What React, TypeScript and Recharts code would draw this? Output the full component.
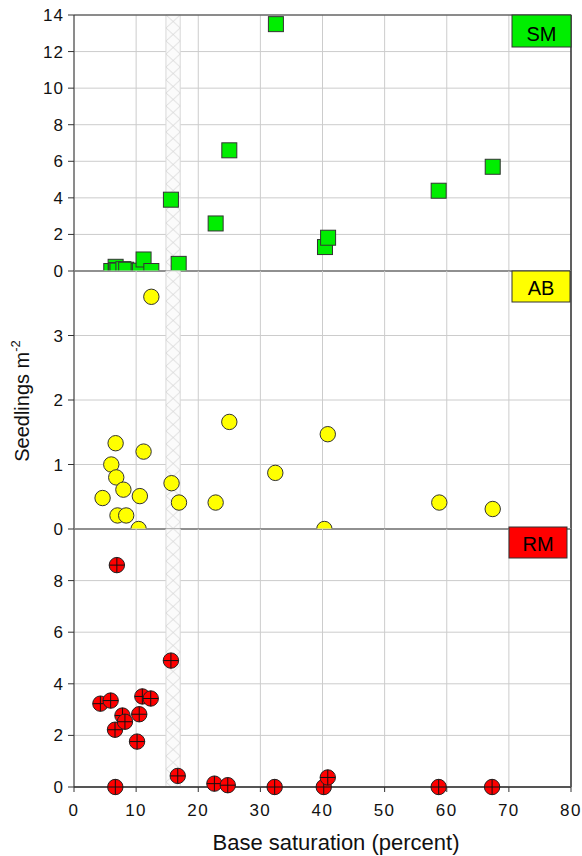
import React from 'react';
import { ScatterChart, Scatter, XAxis, YAxis, CartesianGrid, ReferenceArea, ReferenceLine } from 'recharts';

// ---------- data ----------
const xTicks = [0, 10, 20, 30, 40, 50, 60, 70, 80];
const smTicks = [0, 2, 4, 6, 8, 10, 12, 14];
const abTicks = [0, 1, 2, 3];
const rmTicks = [0, 2, 4, 6, 8];

const smX = [6.0, 6.7, 6.8, 7.0, 7.95, 8.4, 10.4, 10.6, 11.2, 12.45, 15.6, 16.85, 22.8, 25.0, 32.5, 40.4, 40.9, 58.7, 67.4];
const smY = [0.0, 0.23, 0.05, 0.02, 0.1, 0.07, 0.0, 0.02, 0.63, 0.0, 3.9, 0.39, 2.6, 6.6, 13.5, 1.31, 1.82, 4.39, 5.7];

const abX = [4.6, 6.0, 6.7, 6.8, 7.0, 7.95, 8.4, 10.4, 10.6, 11.2, 12.45, 15.7, 16.9, 22.8, 25.0, 32.4, 40.3, 40.85, 58.8, 67.4];
const abY = [0.48, 1.0, 1.33, 0.8, 0.21, 0.61, 0.21, 0.0, 0.51, 1.2, 3.6, 0.71, 0.41, 0.41, 1.66, 0.87, 0.0, 1.47, 0.41, 0.31];

const rmX = [4.25, 5.9, 6.6, 6.65, 6.9, 7.8, 8.2, 10.15, 10.5, 11.0, 12.35, 15.6, 16.7, 22.6, 24.75, 32.3, 40.2, 40.85, 58.7, 67.3];
const rmY = [3.23, 3.35, 2.22, 0.0, 8.6, 2.77, 2.53, 1.76, 2.82, 3.51, 3.43, 4.9, 0.43, 0.13, 0.07, 0.0, 0.0, 0.37, 0.0, 0.0];

const hatchFrom = 14.8;
const hatchTo = 17.1;

const smData = smX.map((x, i) => ({ x, y: smY[i] }));
const abData = abX.map((x, i) => ({ x, y: abY[i] }));
const rmData = rmX.map((x, i) => ({ x, y: rmY[i] }));

// ---------- layout / style ----------
const W = 582;
const H = 856;
const FONT = '"Liberation Sans", Arial, Helvetica, sans-serif';
const PLOT_LEFT = 74;
const PLOT_RIGHT = 571;
const GRID = '#cccccc';
const AXIS = '#333';
const SEP = '#555';

const tickStyle = { fill: '#111', fontSize: 17, fontFamily: FONT, letterSpacing: 1 };

const Square = (props: any) => {
  const { cx, cy } = props;
  if (cx == null || cy == null) return null;
  return <rect x={cx - 7.5} y={cy - 7.5} width={15} height={15} fill="#00ee00" stroke="#333" strokeWidth={1} />;
};

const YellowDot = (props: any) => {
  const { cx, cy } = props;
  if (cx == null || cy == null) return null;
  return <circle cx={cx} cy={cy} r={7.7} fill="#ffff00" stroke="#333" strokeWidth={1} />;
};

const RedCross = (props: any) => {
  const { cx, cy } = props;
  if (cx == null || cy == null) return null;
  const r = 7.7;
  return (
    <g>
      <circle cx={cx} cy={cy} r={r} fill="#ff0000" stroke="#222" strokeWidth={1} />
      <line x1={cx - r} y1={cy} x2={cx + r} y2={cy} stroke="#111" strokeWidth={1} />
      <line x1={cx} y1={cy - r} x2={cx} y2={cy + r} stroke="#111" strokeWidth={1} />
    </g>
  );
};

type PanelProps = {
  top: number;
  bottom: number;
  data: { x: number; y: number }[];
  domain: [number, number];
  ticks: number[];
  shape: (p: any) => any;
  showX: boolean;
  clip: boolean;
  topBorder: boolean;
};

const X_AXIS_H = 30;

const Panel = ({ top, bottom, data, domain, ticks, shape, showX, clip, topBorder }: PanelProps) => {
  const marginBottom = H - bottom - (showX ? X_AXIS_H : 0);
  return (
    <div style={{ position: 'absolute', left: 0, top: 0, width: W, height: H }}>
      <ScatterChart
        width={W}
        height={H}
        margin={{ top, right: W - PLOT_RIGHT, left: 0, bottom: marginBottom }}
      >
        <CartesianGrid stroke={GRID} strokeWidth={1} />
        <XAxis
          type="number"
          dataKey="x"
          domain={[0, 80]}
          ticks={xTicks}
          interval={0}
          hide={!showX}
          height={X_AXIS_H}
          axisLine={{ stroke: SEP, strokeWidth: 2 }}
          tickLine={{ stroke: AXIS }}
          tickSize={5}
          tickMargin={12}
          tick={{ ...tickStyle, letterSpacing: 1.5 }}
        />
        <YAxis
          type="number"
          dataKey="y"
          domain={domain}
          ticks={ticks}
          interval={0}
          width={PLOT_LEFT}
          allowDataOverflow={clip}
          axisLine={{ stroke: AXIS, strokeWidth: 1 }}
          tickLine={{ stroke: AXIS }}
          tickSize={6}
          tickMargin={4}
          tick={tickStyle}
        />
        <ReferenceArea
          x1={hatchFrom}
          x2={hatchTo}
          y1={domain[0]}
          y2={domain[1]}
          fill="url(#hatch)"
          fillOpacity={1}
          stroke="#d8d8d8"
          strokeWidth={1}
        />
        {topBorder && <ReferenceLine y={domain[1]} stroke={AXIS} strokeWidth={1} />}
        <ReferenceLine x={80} stroke={AXIS} strokeWidth={1.5} />
        {!showX && <ReferenceLine y={0} stroke={SEP} strokeWidth={2} />}
        <Scatter data={data} shape={shape} isAnimationActive={false} />
      </ScatterChart>
    </div>
  );
};

const Tag = ({ x, y, w, h, fill, label, base }: any) => (
  <g>
    <rect x={x} y={y} width={w} height={h} fill={fill} stroke="#333" strokeWidth={1} />
    <text x={x + w / 2} y={base} textAnchor="middle" fontSize={20} fontFamily={FONT} fill="#000">
      {label}
    </text>
  </g>
);

export default function App() {
  const bandLeft = PLOT_LEFT + (hatchFrom / 80) * (PLOT_RIGHT - PLOT_LEFT);
  return (
    <div style={{ position: 'absolute', left: 0, top: 0, width: W, height: H, background: '#fff', fontFamily: FONT }}>
      <svg width={0} height={0} style={{ position: 'absolute' }}>
        <defs>
          <pattern id="hatch" patternUnits="userSpaceOnUse" x={bandLeft} y={15} width={14.3} height={13}>
            <rect width={14.3} height={13} fill="#fbfbfb" />
            <path d="M0 0 L14.3 13 M14.3 0 L0 13" stroke="#cbcbcb" strokeWidth={0.7} fill="none" />
          </pattern>
        </defs>
      </svg>
      <Panel top={15} bottom={271} data={smData} domain={[0, 14]} ticks={smTicks} shape={Square} showX={false} clip={true} topBorder={true} />
      <Panel top={271} bottom={529} data={abData} domain={[0, 4]} ticks={abTicks} shape={YellowDot} showX={false} clip={true} topBorder={false} />
      <Panel top={529} bottom={787} data={rmData} domain={[0, 10]} ticks={rmTicks} shape={RedCross} showX={true} clip={false} topBorder={false} />
      <svg width={W} height={H} style={{ position: 'absolute', left: 0, top: 0, pointerEvents: 'none' }}>
        <Tag x={512} y={15} w={59} h={32} fill="#00ee00" label="SM" base={41} />
        <Tag x={512} y={271} w={58} h={31} fill="#ffff00" label="AB" base={295} />
        <Tag x={509} y={527} w={58} h={31} fill="#ff0000" label="RM" base={551} />
        <text x={336} y={850} textAnchor="middle" fontSize={22} fontFamily={FONT} fill="#111">
          Base saturation (percent)
        </text>
        <text transform="translate(29, 401) rotate(-90)" textAnchor="middle" fontSize={20} fontFamily={FONT} fill="#111">
          Seedlings m<tspan fontSize={13} dy={-9}>-2</tspan>
        </text>
      </svg>
    </div>
  );
}
